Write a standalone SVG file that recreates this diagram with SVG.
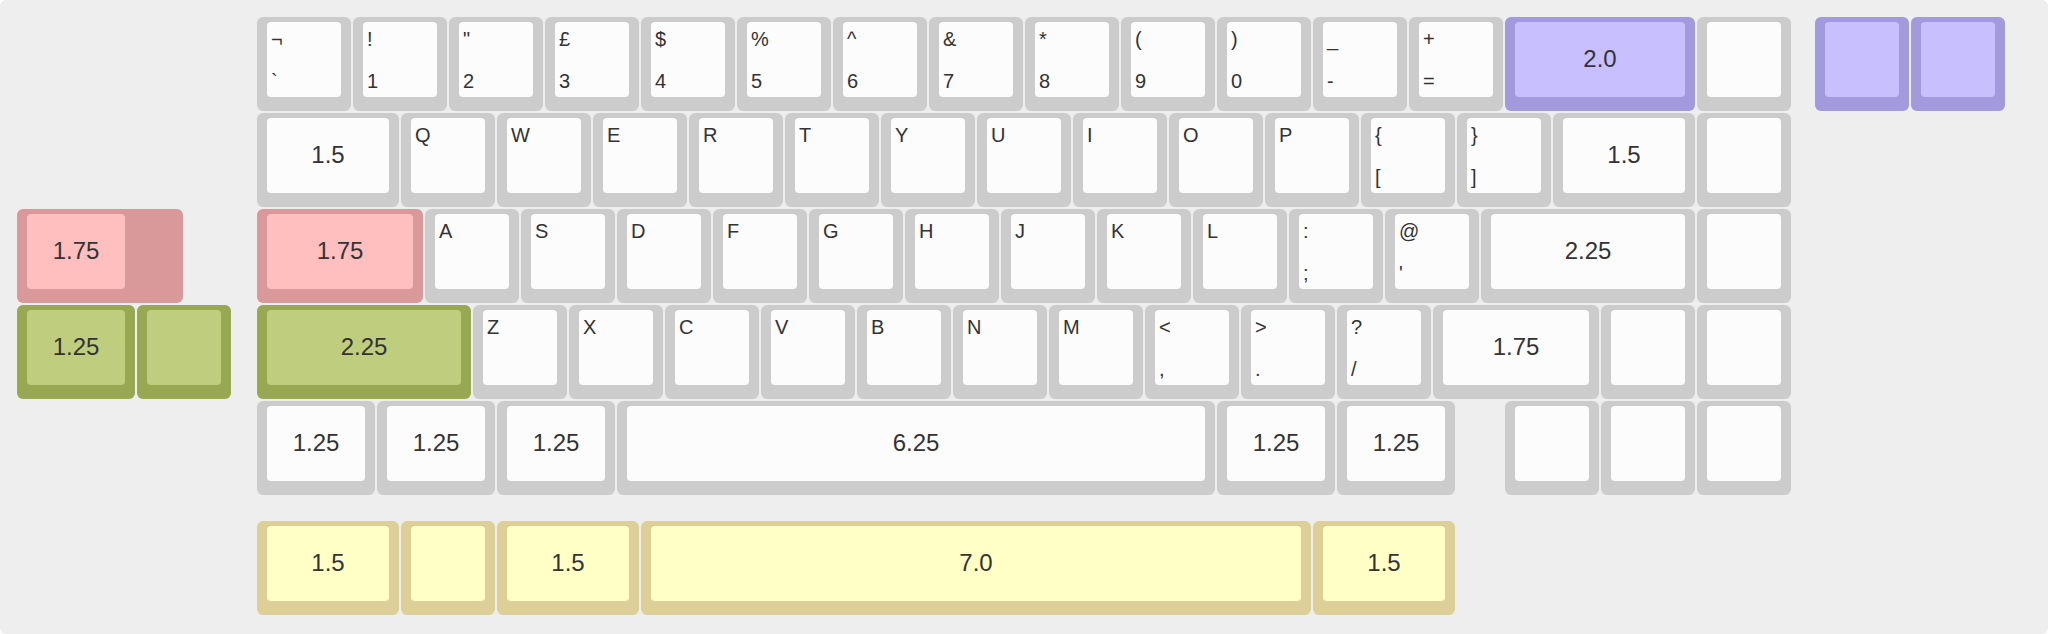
<svg xmlns="http://www.w3.org/2000/svg" width="2048" height="634" viewBox="0 0 2048 634">
<style>
.o{fill:#cccccc}.i{fill:#fcfcfc}
.po{fill:#d9999b}.pi{fill:#ffbfbf}
.go{fill:#98a852}.gi{fill:#bfce7e}
.vo{fill:#a399dd}.vi{fill:#c7bfff}
.yo{fill:#dcd098}.yi{fill:#ffffc6}
rect.o,rect.po,rect.go,rect.vo,rect.yo{rx:6px;ry:6px}
rect.i,rect.pi,rect.gi,rect.vi,rect.yi{rx:4px;ry:4px}
text{font-family:"Liberation Sans",Arial,sans-serif;fill:#333}
.l{font-size:20px}
.c{font-size:24px;text-anchor:middle}
</style>
<rect x="0" y="0" width="2048" height="634" fill="#ffffff"/>
<rect x="0" y="0" width="2048" height="634" rx="6" fill="#eeeeee"/>

<!-- Left extras -->
<g id="left-pink-175"><rect class="po" x="17" y="209" width="166" height="94"/><rect class="pi" x="27" y="214" width="98" height="75"/><text class="c" x="76" y="259">1.75</text></g>
<g id="left-green-125"><rect class="go" x="17" y="305" width="118" height="94"/><rect class="gi" x="27" y="310" width="98" height="75"/><text class="c" x="76" y="355">1.25</text></g>
<g id="left-green-1"><rect class="go" x="137" y="305" width="94" height="94"/><rect class="gi" x="147" y="310" width="74" height="75"/></g>

<!-- Row 0 -->
<g id="k-grave"><rect class="o" x="257" y="17" width="94" height="94"/><rect class="i" x="267" y="22" width="74" height="75"/><text class="l" x="271" y="46">¬</text><text class="l" x="271" y="88">`</text></g>
<g id="k-1"><rect class="o" x="353" y="17" width="94" height="94"/><rect class="i" x="363" y="22" width="74" height="75"/><text class="l" x="367" y="46">!</text><text class="l" x="367" y="88">1</text></g>
<g id="k-2"><rect class="o" x="449" y="17" width="94" height="94"/><rect class="i" x="459" y="22" width="74" height="75"/><text class="l" x="463" y="46">"</text><text class="l" x="463" y="88">2</text></g>
<g id="k-3"><rect class="o" x="545" y="17" width="94" height="94"/><rect class="i" x="555" y="22" width="74" height="75"/><text class="l" x="559" y="46">£</text><text class="l" x="559" y="88">3</text></g>
<g id="k-4"><rect class="o" x="641" y="17" width="94" height="94"/><rect class="i" x="651" y="22" width="74" height="75"/><text class="l" x="655" y="46">$</text><text class="l" x="655" y="88">4</text></g>
<g id="k-5"><rect class="o" x="737" y="17" width="94" height="94"/><rect class="i" x="747" y="22" width="74" height="75"/><text class="l" x="751" y="46">%</text><text class="l" x="751" y="88">5</text></g>
<g id="k-6"><rect class="o" x="833" y="17" width="94" height="94"/><rect class="i" x="843" y="22" width="74" height="75"/><text class="l" x="847" y="46">^</text><text class="l" x="847" y="88">6</text></g>
<g id="k-7"><rect class="o" x="929" y="17" width="94" height="94"/><rect class="i" x="939" y="22" width="74" height="75"/><text class="l" x="943" y="46">&amp;</text><text class="l" x="943" y="88">7</text></g>
<g id="k-8"><rect class="o" x="1025" y="17" width="94" height="94"/><rect class="i" x="1035" y="22" width="74" height="75"/><text class="l" x="1039" y="46">*</text><text class="l" x="1039" y="88">8</text></g>
<g id="k-9"><rect class="o" x="1121" y="17" width="94" height="94"/><rect class="i" x="1131" y="22" width="74" height="75"/><text class="l" x="1135" y="46">(</text><text class="l" x="1135" y="88">9</text></g>
<g id="k-0"><rect class="o" x="1217" y="17" width="94" height="94"/><rect class="i" x="1227" y="22" width="74" height="75"/><text class="l" x="1231" y="46">)</text><text class="l" x="1231" y="88">0</text></g>
<g id="k-minus"><rect class="o" x="1313" y="17" width="94" height="94"/><rect class="i" x="1323" y="22" width="74" height="75"/><text class="l" x="1327" y="46">_</text><text class="l" x="1327" y="88">-</text></g>
<g id="k-equal"><rect class="o" x="1409" y="17" width="94" height="94"/><rect class="i" x="1419" y="22" width="74" height="75"/><text class="l" x="1423" y="46">+</text><text class="l" x="1423" y="88">=</text></g>
<g id="k-bksp"><rect class="vo" x="1505" y="17" width="190" height="94"/><rect class="vi" x="1515" y="22" width="170" height="75"/><text class="c" x="1600" y="67">2.0</text></g>
<g id="k-r0-blank"><rect class="o" x="1697" y="17" width="94" height="94"/><rect class="i" x="1707" y="22" width="74" height="75"/></g>
<g id="k-purple-a"><rect class="vo" x="1815" y="17" width="94" height="94"/><rect class="vi" x="1825" y="22" width="74" height="75"/></g>
<g id="k-purple-b"><rect class="vo" x="1911" y="17" width="94" height="94"/><rect class="vi" x="1921" y="22" width="74" height="75"/></g>

<!-- Row 1 -->
<g id="k-tab"><rect class="o" x="257" y="113" width="142" height="94"/><rect class="i" x="267" y="118" width="122" height="75"/><text class="c" x="328" y="163">1.5</text></g>
<g id="k-q"><rect class="o" x="401" y="113" width="94" height="94"/><rect class="i" x="411" y="118" width="74" height="75"/><text class="l" x="415" y="142">Q</text></g>
<g id="k-w"><rect class="o" x="497" y="113" width="94" height="94"/><rect class="i" x="507" y="118" width="74" height="75"/><text class="l" x="511" y="142">W</text></g>
<g id="k-e"><rect class="o" x="593" y="113" width="94" height="94"/><rect class="i" x="603" y="118" width="74" height="75"/><text class="l" x="607" y="142">E</text></g>
<g id="k-r"><rect class="o" x="689" y="113" width="94" height="94"/><rect class="i" x="699" y="118" width="74" height="75"/><text class="l" x="703" y="142">R</text></g>
<g id="k-t"><rect class="o" x="785" y="113" width="94" height="94"/><rect class="i" x="795" y="118" width="74" height="75"/><text class="l" x="799" y="142">T</text></g>
<g id="k-y"><rect class="o" x="881" y="113" width="94" height="94"/><rect class="i" x="891" y="118" width="74" height="75"/><text class="l" x="895" y="142">Y</text></g>
<g id="k-u"><rect class="o" x="977" y="113" width="94" height="94"/><rect class="i" x="987" y="118" width="74" height="75"/><text class="l" x="991" y="142">U</text></g>
<g id="k-i"><rect class="o" x="1073" y="113" width="94" height="94"/><rect class="i" x="1083" y="118" width="74" height="75"/><text class="l" x="1087" y="142">I</text></g>
<g id="k-o"><rect class="o" x="1169" y="113" width="94" height="94"/><rect class="i" x="1179" y="118" width="74" height="75"/><text class="l" x="1183" y="142">O</text></g>
<g id="k-p"><rect class="o" x="1265" y="113" width="94" height="94"/><rect class="i" x="1275" y="118" width="74" height="75"/><text class="l" x="1279" y="142">P</text></g>
<g id="k-lbr"><rect class="o" x="1361" y="113" width="94" height="94"/><rect class="i" x="1371" y="118" width="74" height="75"/><text class="l" x="1375" y="142">{</text><text class="l" x="1375" y="184">[</text></g>
<g id="k-rbr"><rect class="o" x="1457" y="113" width="94" height="94"/><rect class="i" x="1467" y="118" width="74" height="75"/><text class="l" x="1471" y="142">}</text><text class="l" x="1471" y="184">]</text></g>
<g id="k-bslash"><rect class="o" x="1553" y="113" width="142" height="94"/><rect class="i" x="1563" y="118" width="122" height="75"/><text class="c" x="1624" y="163">1.5</text></g>
<g id="k-r1-blank"><rect class="o" x="1697" y="113" width="94" height="94"/><rect class="i" x="1707" y="118" width="74" height="75"/></g>

<!-- Row 2 -->
<g id="k-caps"><rect class="po" x="257" y="209" width="166" height="94"/><rect class="pi" x="267" y="214" width="146" height="75"/><text class="c" x="340" y="259">1.75</text></g>
<g id="k-a"><rect class="o" x="425" y="209" width="94" height="94"/><rect class="i" x="435" y="214" width="74" height="75"/><text class="l" x="439" y="238">A</text></g>
<g id="k-s"><rect class="o" x="521" y="209" width="94" height="94"/><rect class="i" x="531" y="214" width="74" height="75"/><text class="l" x="535" y="238">S</text></g>
<g id="k-d"><rect class="o" x="617" y="209" width="94" height="94"/><rect class="i" x="627" y="214" width="74" height="75"/><text class="l" x="631" y="238">D</text></g>
<g id="k-f"><rect class="o" x="713" y="209" width="94" height="94"/><rect class="i" x="723" y="214" width="74" height="75"/><text class="l" x="727" y="238">F</text></g>
<g id="k-g"><rect class="o" x="809" y="209" width="94" height="94"/><rect class="i" x="819" y="214" width="74" height="75"/><text class="l" x="823" y="238">G</text></g>
<g id="k-h"><rect class="o" x="905" y="209" width="94" height="94"/><rect class="i" x="915" y="214" width="74" height="75"/><text class="l" x="919" y="238">H</text></g>
<g id="k-j"><rect class="o" x="1001" y="209" width="94" height="94"/><rect class="i" x="1011" y="214" width="74" height="75"/><text class="l" x="1015" y="238">J</text></g>
<g id="k-k"><rect class="o" x="1097" y="209" width="94" height="94"/><rect class="i" x="1107" y="214" width="74" height="75"/><text class="l" x="1111" y="238">K</text></g>
<g id="k-l"><rect class="o" x="1193" y="209" width="94" height="94"/><rect class="i" x="1203" y="214" width="74" height="75"/><text class="l" x="1207" y="238">L</text></g>
<g id="k-semi"><rect class="o" x="1289" y="209" width="94" height="94"/><rect class="i" x="1299" y="214" width="74" height="75"/><text class="l" x="1303" y="238">:</text><text class="l" x="1303" y="280">;</text></g>
<g id="k-quote"><rect class="o" x="1385" y="209" width="94" height="94"/><rect class="i" x="1395" y="214" width="74" height="75"/><text class="l" x="1399" y="238">@</text><text class="l" x="1399" y="280">'</text></g>
<g id="k-enter"><rect class="o" x="1481" y="209" width="214" height="94"/><rect class="i" x="1491" y="214" width="194" height="75"/><text class="c" x="1588" y="259">2.25</text></g>
<g id="k-r2-blank"><rect class="o" x="1697" y="209" width="94" height="94"/><rect class="i" x="1707" y="214" width="74" height="75"/></g>

<!-- Row 3 -->
<g id="k-lshift"><rect class="go" x="257" y="305" width="214" height="94"/><rect class="gi" x="267" y="310" width="194" height="75"/><text class="c" x="364" y="355">2.25</text></g>
<g id="k-z"><rect class="o" x="473" y="305" width="94" height="94"/><rect class="i" x="483" y="310" width="74" height="75"/><text class="l" x="487" y="334">Z</text></g>
<g id="k-x"><rect class="o" x="569" y="305" width="94" height="94"/><rect class="i" x="579" y="310" width="74" height="75"/><text class="l" x="583" y="334">X</text></g>
<g id="k-c"><rect class="o" x="665" y="305" width="94" height="94"/><rect class="i" x="675" y="310" width="74" height="75"/><text class="l" x="679" y="334">C</text></g>
<g id="k-v"><rect class="o" x="761" y="305" width="94" height="94"/><rect class="i" x="771" y="310" width="74" height="75"/><text class="l" x="775" y="334">V</text></g>
<g id="k-b"><rect class="o" x="857" y="305" width="94" height="94"/><rect class="i" x="867" y="310" width="74" height="75"/><text class="l" x="871" y="334">B</text></g>
<g id="k-n"><rect class="o" x="953" y="305" width="94" height="94"/><rect class="i" x="963" y="310" width="74" height="75"/><text class="l" x="967" y="334">N</text></g>
<g id="k-m"><rect class="o" x="1049" y="305" width="94" height="94"/><rect class="i" x="1059" y="310" width="74" height="75"/><text class="l" x="1063" y="334">M</text></g>
<g id="k-comma"><rect class="o" x="1145" y="305" width="94" height="94"/><rect class="i" x="1155" y="310" width="74" height="75"/><text class="l" x="1159" y="334">&lt;</text><text class="l" x="1159" y="376">,</text></g>
<g id="k-period"><rect class="o" x="1241" y="305" width="94" height="94"/><rect class="i" x="1251" y="310" width="74" height="75"/><text class="l" x="1255" y="334">&gt;</text><text class="l" x="1255" y="376">.</text></g>
<g id="k-slash"><rect class="o" x="1337" y="305" width="94" height="94"/><rect class="i" x="1347" y="310" width="74" height="75"/><text class="l" x="1351" y="334">?</text><text class="l" x="1351" y="376">/</text></g>
<g id="k-rshift"><rect class="o" x="1433" y="305" width="166" height="94"/><rect class="i" x="1443" y="310" width="146" height="75"/><text class="c" x="1516" y="355">1.75</text></g>
<g id="k-r3-blank-a"><rect class="o" x="1601" y="305" width="94" height="94"/><rect class="i" x="1611" y="310" width="74" height="75"/></g>
<g id="k-r3-blank-b"><rect class="o" x="1697" y="305" width="94" height="94"/><rect class="i" x="1707" y="310" width="74" height="75"/></g>

<!-- Row 4 -->
<g id="k-lctrl"><rect class="o" x="257" y="401" width="118" height="94"/><rect class="i" x="267" y="406" width="98" height="75"/><text class="c" x="316" y="451">1.25</text></g>
<g id="k-lwin"><rect class="o" x="377" y="401" width="118" height="94"/><rect class="i" x="387" y="406" width="98" height="75"/><text class="c" x="436" y="451">1.25</text></g>
<g id="k-lalt"><rect class="o" x="497" y="401" width="118" height="94"/><rect class="i" x="507" y="406" width="98" height="75"/><text class="c" x="556" y="451">1.25</text></g>
<g id="k-space"><rect class="o" x="617" y="401" width="598" height="94"/><rect class="i" x="627" y="406" width="578" height="75"/><text class="c" x="916" y="451">6.25</text></g>
<g id="k-ralt"><rect class="o" x="1217" y="401" width="118" height="94"/><rect class="i" x="1227" y="406" width="98" height="75"/><text class="c" x="1276" y="451">1.25</text></g>
<g id="k-rctrl"><rect class="o" x="1337" y="401" width="118" height="94"/><rect class="i" x="1347" y="406" width="98" height="75"/><text class="c" x="1396" y="451">1.25</text></g>
<g id="k-r4-blank-a"><rect class="o" x="1505" y="401" width="94" height="94"/><rect class="i" x="1515" y="406" width="74" height="75"/></g>
<g id="k-r4-blank-b"><rect class="o" x="1601" y="401" width="94" height="94"/><rect class="i" x="1611" y="406" width="74" height="75"/></g>
<g id="k-r4-blank-c"><rect class="o" x="1697" y="401" width="94" height="94"/><rect class="i" x="1707" y="406" width="74" height="75"/></g>

<!-- Yellow row -->
<g id="y-15a"><rect class="yo" x="257" y="521" width="142" height="94"/><rect class="yi" x="267" y="526" width="122" height="75"/><text class="c" x="328" y="571">1.5</text></g>
<g id="y-1"><rect class="yo" x="401" y="521" width="94" height="94"/><rect class="yi" x="411" y="526" width="74" height="75"/></g>
<g id="y-15b"><rect class="yo" x="497" y="521" width="142" height="94"/><rect class="yi" x="507" y="526" width="122" height="75"/><text class="c" x="568" y="571">1.5</text></g>
<g id="y-7"><rect class="yo" x="641" y="521" width="670" height="94"/><rect class="yi" x="651" y="526" width="650" height="75"/><text class="c" x="976" y="571">7.0</text></g>
<g id="y-15c"><rect class="yo" x="1313" y="521" width="142" height="94"/><rect class="yi" x="1323" y="526" width="122" height="75"/><text class="c" x="1384" y="571">1.5</text></g>

<g id="connectors"></g>
</svg>
